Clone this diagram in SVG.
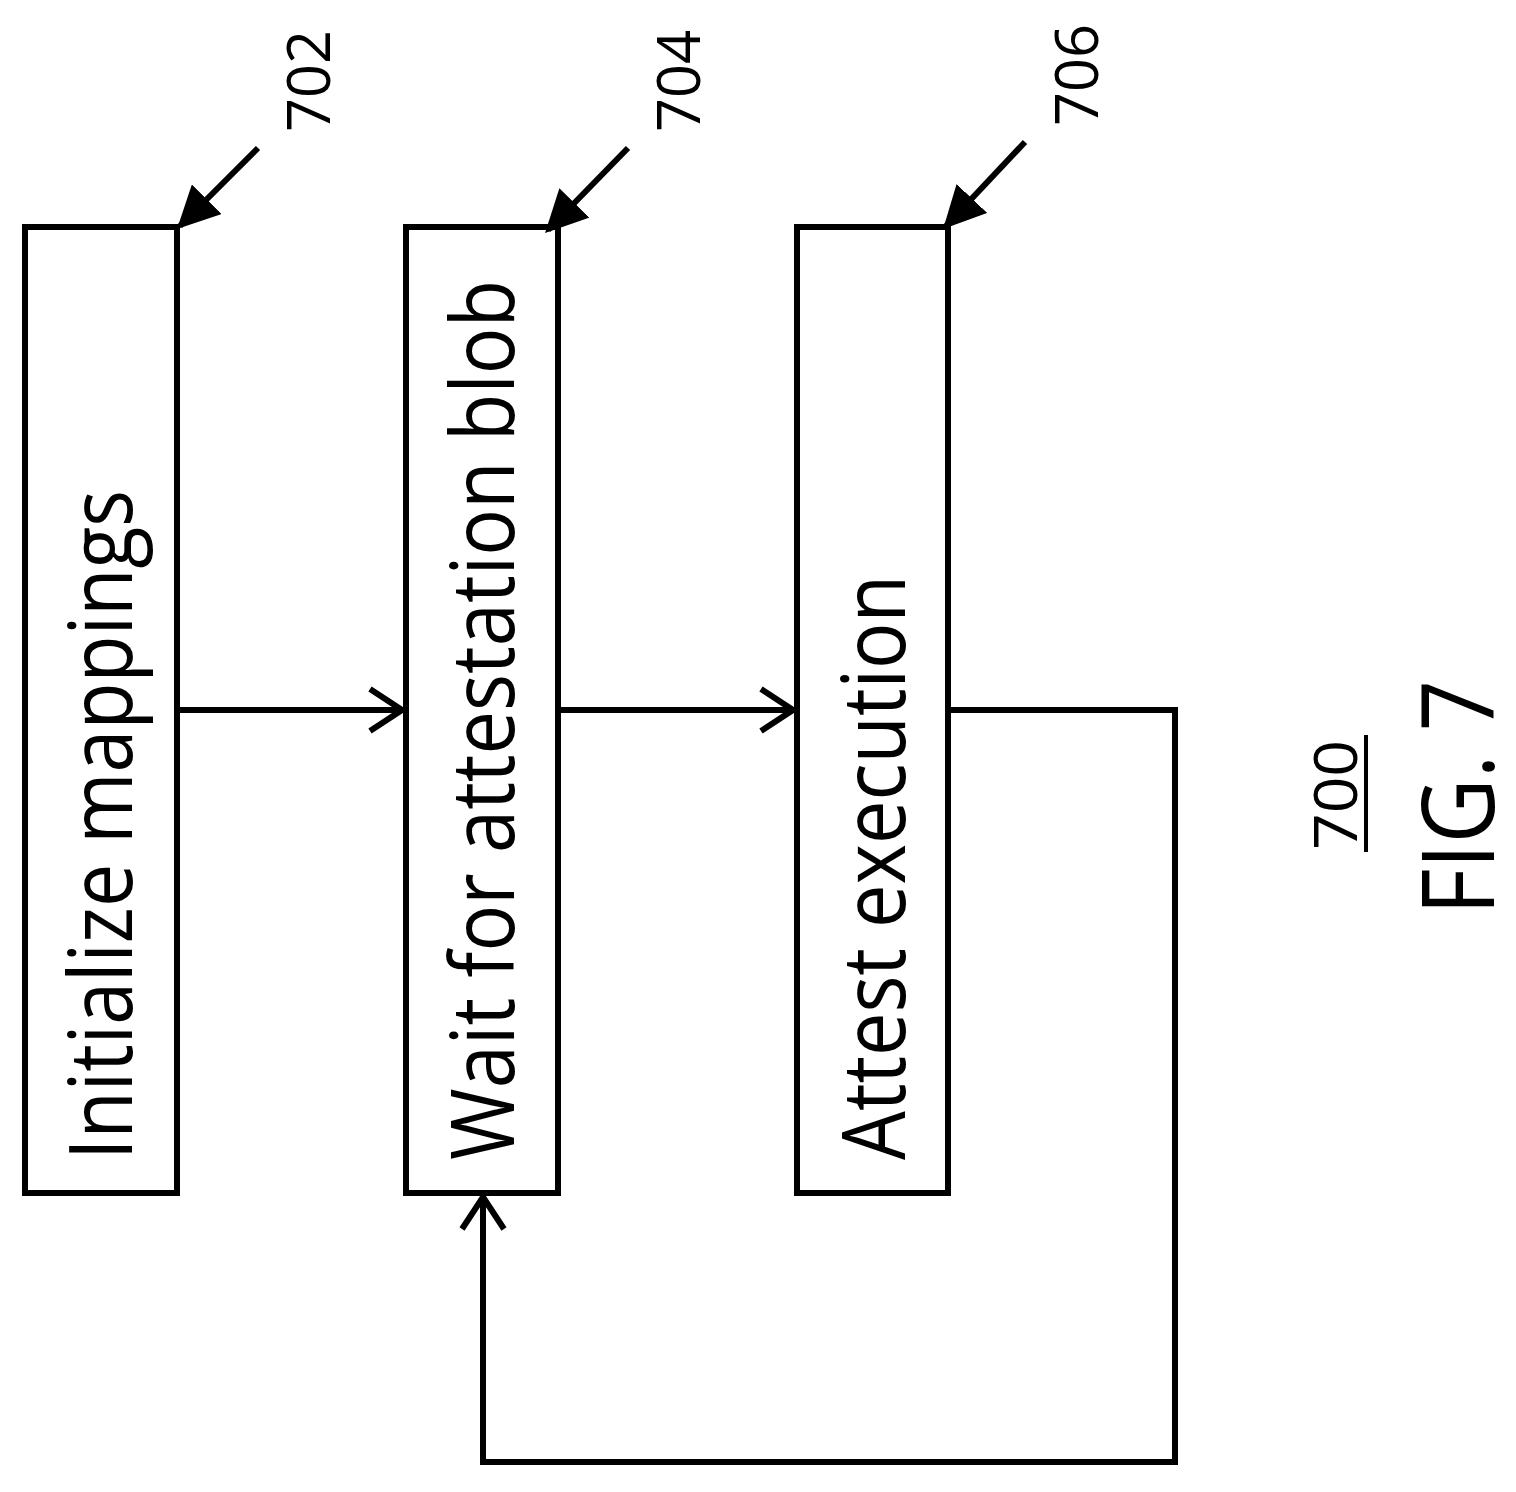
<svg xmlns="http://www.w3.org/2000/svg" width="1516" height="1492" viewBox="0 0 1516 1492">
<defs>
<marker id="open" viewBox="0 0 40 50" refX="37" refY="25" markerWidth="40" markerHeight="50" markerUnits="userSpaceOnUse" orient="auto"><path d="M4,4 L36,25 L4,46" fill="none" stroke="#000" stroke-width="6"/></marker>
<marker id="solid" viewBox="0 0 10 10" refX="9" refY="5" markerWidth="7" markerHeight="7" orient="auto"><path d="M0,0 L10,5 L0,10 z" fill="#000"/></marker>
</defs>
<style>
.box{fill:#fff;stroke:#000;stroke-width:6}
.t{font-family:"Open Sans","DejaVu Sans",sans-serif;font-size:88px;fill:#000}
.n{font-family:"Open Sans","DejaVu Sans",sans-serif;font-size:60px;fill:#000}
.c{fill:none;stroke:#000;stroke-width:6}
</style>
<rect width="1516" height="1492" fill="#fff"/>
<g id="node702"><rect class="box" x="25" y="227" width="152" height="966"/><text class="t" transform="translate(132,1160) rotate(-90)" textLength="670" lengthAdjust="spacingAndGlyphs">Initialize mappings</text></g>
<g id="node704"><rect class="box" x="406" y="227" width="152" height="966"/><text class="t" transform="translate(514,1160) rotate(-90)" textLength="880" lengthAdjust="spacingAndGlyphs">Wait for attestation blob</text></g>
<g id="node706"><rect class="box" x="797" y="227" width="151" height="966"/><text class="t" transform="translate(905,1160) rotate(-90)" textLength="585" lengthAdjust="spacingAndGlyphs">Attest execution</text></g>
<g id="labels">
<text class="n" transform="translate(330,132) rotate(-90)" textLength="102" lengthAdjust="spacingAndGlyphs">702</text>
<text class="n" transform="translate(700,132) rotate(-90)" textLength="102" lengthAdjust="spacingAndGlyphs">704</text>
<text class="n" transform="translate(1098,126) rotate(-90)" textLength="102" lengthAdjust="spacingAndGlyphs">706</text>
<text class="n" transform="translate(1357,850) rotate(-90)" textLength="110" lengthAdjust="spacingAndGlyphs">700</text>
<line x1="1366" y1="735" x2="1366" y2="852" stroke="#000" stroke-width="4"/>
<text class="t" transform="translate(1494,915) rotate(-90)" style="font-size:100px" textLength="235" lengthAdjust="spacingAndGlyphs">FIG. 7</text>
</g>
<g id="connectors">
<line class="c" x1="258" y1="148" x2="180" y2="226" marker-end="url(#solid)"/>
<line class="c" x1="628" y1="148" x2="548" y2="230" marker-end="url(#solid)"/>
<line class="c" x1="1025" y1="142" x2="946" y2="226" marker-end="url(#solid)"/>
<line class="c" x1="177" y1="710" x2="403" y2="710" marker-end="url(#open)"/>
<line class="c" x1="558" y1="710" x2="794" y2="710" marker-end="url(#open)"/>
<polyline class="c" points="948,710 1175,710 1175,1462 483,1462 483,1196" marker-end="url(#open)"/>
</g>
</svg>
